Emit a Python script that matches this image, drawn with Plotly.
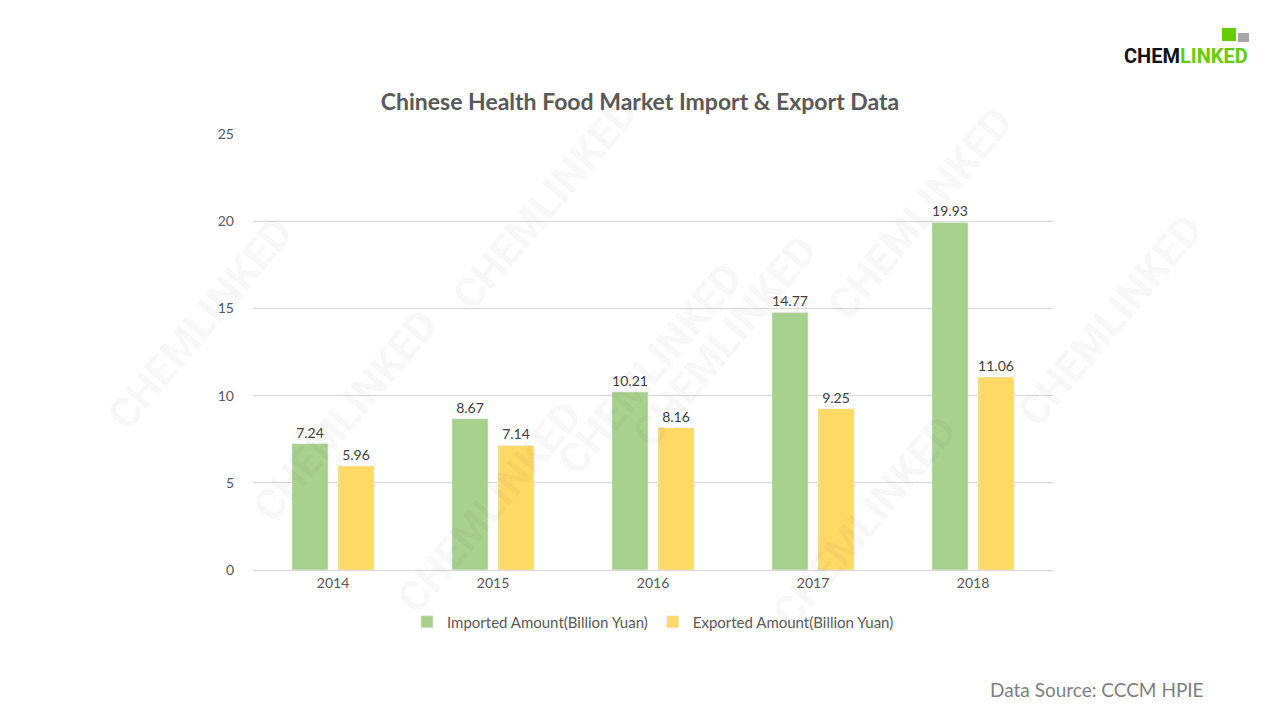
import plotly.graph_objects as go

years = ["2014", "2015", "2016", "2017", "2018"]
imported = [7.24, 8.67, 10.21, 14.77, 19.93]
exported = [5.96, 7.14, 8.16, 9.25, 11.06]
imported_name = "Imported Amount(Billion Yuan)"
exported_name = "Exported Amount(Billion Yuan)"
title_text = "Chinese Health Food Market Import & Export Data"
source_text = "Data Source: CCCM HPIE"
y_ticks = [0, 5, 10, 15, 20, 25]

FONT = "Lato, Open Sans, sans-serif"
NARROW = "Roboto, sans-serif"
L, R, T, B = 253, 1053, 134, 570


def px(x):
    return (x - L) / (R - L)


def py(y):
    return (B - y) / (B - T)


fig = go.Figure()
fig.add_trace(go.Bar(
    x=years, y=imported, name=imported_name, marker_color="#A9D18E",
    text=[f"{v:.2f}" for v in imported], textposition="outside",
    textfont=dict(size=14, color="#404040", family=FONT), cliponaxis=False,
))
fig.add_trace(go.Bar(
    x=years, y=exported, name=exported_name, marker_color="#FFD966",
    text=[f"{v:.2f}" for v in exported], textposition="outside",
    textfont=dict(size=14, color="#404040", family=FONT), cliponaxis=False,
))

# watermarks
wm = [(95, 205), (440, 85), (240, 415), (650, 250), (1025, 95), (830, 460),
      (1215, 320), (385, 625), (970, 640)]
for (x, y) in wm:
    fig.add_annotation(x=px(x), y=py(y), xref="paper", yref="paper",
                       text="<b>CHEMLINKED</b>", showarrow=False, textangle=-50,
                       font=dict(size=42, color="rgba(0,0,0,0.04)", family=NARROW))

fig.update_layout(
    width=1280, height=720,
    paper_bgcolor="white", plot_bgcolor="white",
    margin=dict(l=L, r=1280 - R, t=T, b=720 - B),
    barmode="group", bargap=0.425, bargroupgap=0.217,
    font=dict(family=FONT, color="#595959", size=14),
    title=dict(text=title_text, x=0.5, xanchor="center", y=1 - 102 / 720, yanchor="middle",
               font=dict(size=23, color="#595959", family=FONT, weight="bold")),
    xaxis=dict(showgrid=False, showline=True, linecolor="#D9D9D9", linewidth=1,
               ticks="", tickfont=dict(size=14, color="#595959")),
    yaxis=dict(range=[0, 25], tickvals=y_ticks, showgrid=True, gridcolor="#D9D9D9",
               zeroline=False, showline=False, ticks="", ticklabelstandoff=18,
               tickfont=dict(size=14, color="#595959")),
    legend=dict(orientation="h", x=0.5, xanchor="center", y=1 - 622 / 720, yanchor="middle",
                yref="container", font=dict(size=15, color="#595959"), itemwidth=30,
                traceorder="normal"),
    showlegend=True,
)

fig.add_annotation(x=px(1206), y=py(689), xref="paper", yref="paper",
                   xanchor="right", yanchor="middle", showarrow=False, text=source_text,
                   font=dict(size=19, color="#7F7F7F", family=FONT))
# logo
fig.add_annotation(x=px(1250), y=py(56), xref="paper", yref="paper",
                   xanchor="right", yanchor="middle", showarrow=False,
                   text="<b><span style='color:#111111'>CHEM</span><span style='color:#66CC00'>LINKED</span></b>",
                   font=dict(size=20, family=NARROW))
fig.add_shape(type="rect", xref="paper", yref="paper",
              x0=px(1222), x1=px(1236), y0=py(41), y1=py(28),
              fillcolor="#66CC00", line_width=0)
fig.add_shape(type="rect", xref="paper", yref="paper",
              x0=px(1238), x1=px(1249), y0=py(42), y1=py(33),
              fillcolor="#A6A6A6", line_width=0)

fig.write_html("out.html")
